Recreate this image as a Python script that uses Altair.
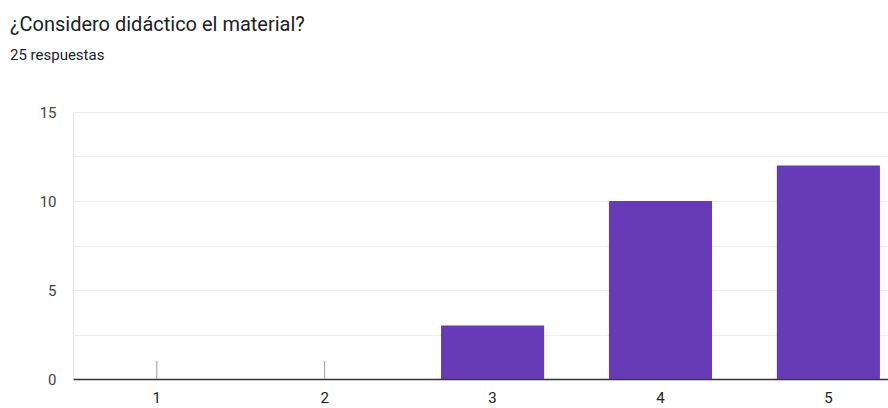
import altair as alt
import pandas as pd

categories = ["1", "2", "3", "4", "5"]
counts = [0, 0, 3, 10, 12]
y_ticks = [0, 2.5, 5, 7.5, 10, 12.5, 15]

title_text = "¿Considero didáctico el material?"
subtitle_text = "25 respuestas"

df = pd.DataFrame({"cat": categories, "n": counts})

PLOT_W = 815
PLOT_H = 267

xscale = alt.Scale(domain=categories, paddingInner=0.386, paddingOuter=0.12, align=0.8)

x_enc = alt.X(
    "cat:N",
    scale=xscale,
    sort=categories,
    axis=alt.Axis(
        title=None,
        labelAngle=0,
        labelFont="Roboto",
        labelFontSize=15,
        labelColor="#222222",
        labelPadding=11,
        ticks=False,
        domainColor="#333333",
        domainWidth=1.5,
        grid=False,
    ),
)

bars = alt.Chart(df).transform_filter("datum.n > 0").mark_bar(
    color="#673ab7"
).encode(
    x=x_enc,
    y=alt.Y(
        "n:Q",
        scale=alt.Scale(domain=[0, 15], nice=False),
        axis=alt.Axis(
            title=None,
            values=y_ticks,
            labelExpr="datum.value % 5 == 0 ? datum.label : ''",
            labelFont="Roboto",
            labelFontSize=15,
            labelColor="#444444",
            labelPadding=17,
            ticks=False,
            domainColor="#e6e6e6",
            domainWidth=1,
            gridColor="#ececec",
            gridWidth=1,
        ),
    ),
)

zero_marks = alt.Chart(df).transform_filter("datum.n == 0").mark_rule(
    color="#9e9e9e", strokeWidth=1
).encode(
    x=alt.X("cat:N", scale=xscale, sort=categories),
    y=alt.value(PLOT_H - 18),
    y2=alt.value(PLOT_H),
)

chart = (
    alt.layer(bars, zero_marks)
    .properties(
        width=PLOT_W,
        height=PLOT_H,
        autosize=alt.AutoSizeParams(type="none"),
        padding={"left": 73, "top": 112, "right": 0, "bottom": 29},
        title=alt.TitleParams(
            text=title_text,
            subtitle=subtitle_text,
            anchor="start",
            frame="group",
            dx=-63,
            offset=42,
            font="Roboto",
            fontSize=20,
            fontWeight="normal",
            color="#202124",
            subtitleFont="Roboto",
            subtitleFontSize=15,
            subtitleColor="#202124",
            subtitlePadding=13,
        ),
    )
    .configure_view(stroke=None)
    .configure(background="white")
)

chart.save("out.html", embed_options={"renderer": "svg", "actions": False})
